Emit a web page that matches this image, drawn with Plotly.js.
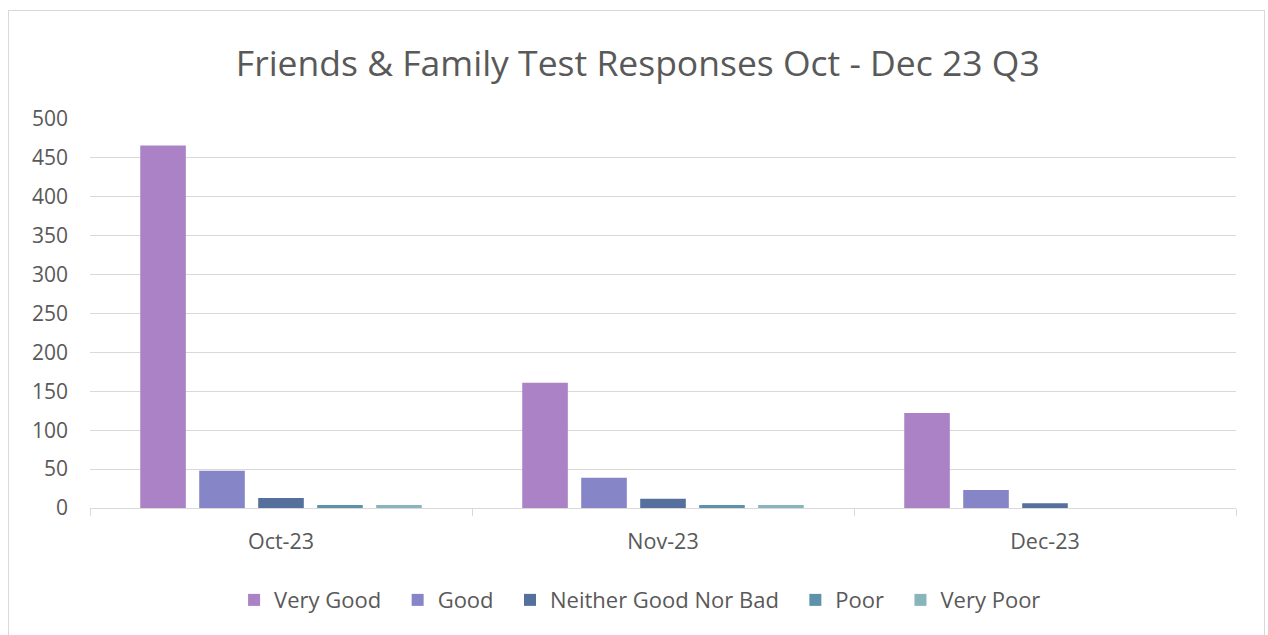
<!DOCTYPE html>
<html><head><meta charset="utf-8">
<script src="https://cdn.plot.ly/plotly-3.0.1.min.js"></script>
<style>body{margin:0;background:#fff}#frame{position:absolute;left:8px;top:10px;width:1257px;height:630px;border:1px solid #d9d9d9;box-sizing:border-box;pointer-events:none}</style>
</head><body>
<div id="chart" style="width:1268px;height:635px;"></div>
<div id="frame"></div>
<script>
const months = ["Oct-23", "Nov-23", "Dec-23"];
const seriesNames = ["Very Good", "Good", "Neither Good Nor Bad", "Poor", "Very Poor"];
const veryGood = [466, 161, 122];
const good = [48, 39, 23];
const neither = [13, 12, 6];
const poor = [4, 4, 0];
const veryPoor = [4, 4, 0];
const colors = ["#aa82c5", "#8585c8", "#55709c", "#5e92ab", "#88b4bc"];

const values = [veryGood, good, neither, poor, veryPoor];
const pad = "\u00a0\u00a0";
const traces = values.map((v, i) => ({
  type: "bar", name: seriesNames[i] + (i < values.length - 1 ? pad : ""), x: months, y: v,
  marker: {color: colors[i]}, hoverinfo: "x+y+name"
}));
const fam = "Open Sans, Liberation Sans, sans-serif";
const layout = {
  width: 1268, height: 635,
  margin: {l: 90, r: 32, t: 119, b: 127, autoexpand: false},
  paper_bgcolor: "#fff", plot_bgcolor: "#fff",
  title: {text: "Friends &amp; Family Test Responses Oct - Dec 23 Q3", x: 0.503, xanchor: "center",
    yref: "container", y: 0.9, yanchor: "middle",
    font: {family: fam, color: "#595959", size: 35.5}},
  barmode: "group", bargap: 0.228, bargroupgap: 0.227,
  xaxis: {type: "category", showgrid: false, showline: true, linecolor: "#d9d9d9", linewidth: 1,
    ticks: "outside", tickson: "boundaries", ticklen: 7, tickcolor: "#d9d9d9",
    ticklabelstandoff: 14,
    tickfont: {family: fam, color: "#595959", size: 21.5}, fixedrange: true},
  yaxis: {range: [0, 500], dtick: 50, showgrid: true, gridcolor: "#d9d9d9", gridwidth: 1, zeroline: false,
    showline: false, ticks: "", ticklabelstandoff: 21,
    tickfont: {family: fam, color: "#595959", size: 21}, fixedrange: true},
  showlegend: true,
  legend: {orientation: "h", x: 0.48, xanchor: "center", yref: "container", y: 0.055, yanchor: "middle",
    font: {family: fam, color: "#595959", size: 22}, itemwidth: 30, traceorder: "normal"}
};
Plotly.newPlot("chart", traces, layout, {displayModeBar: false, staticPlot: true});
</script>
</body></html>
